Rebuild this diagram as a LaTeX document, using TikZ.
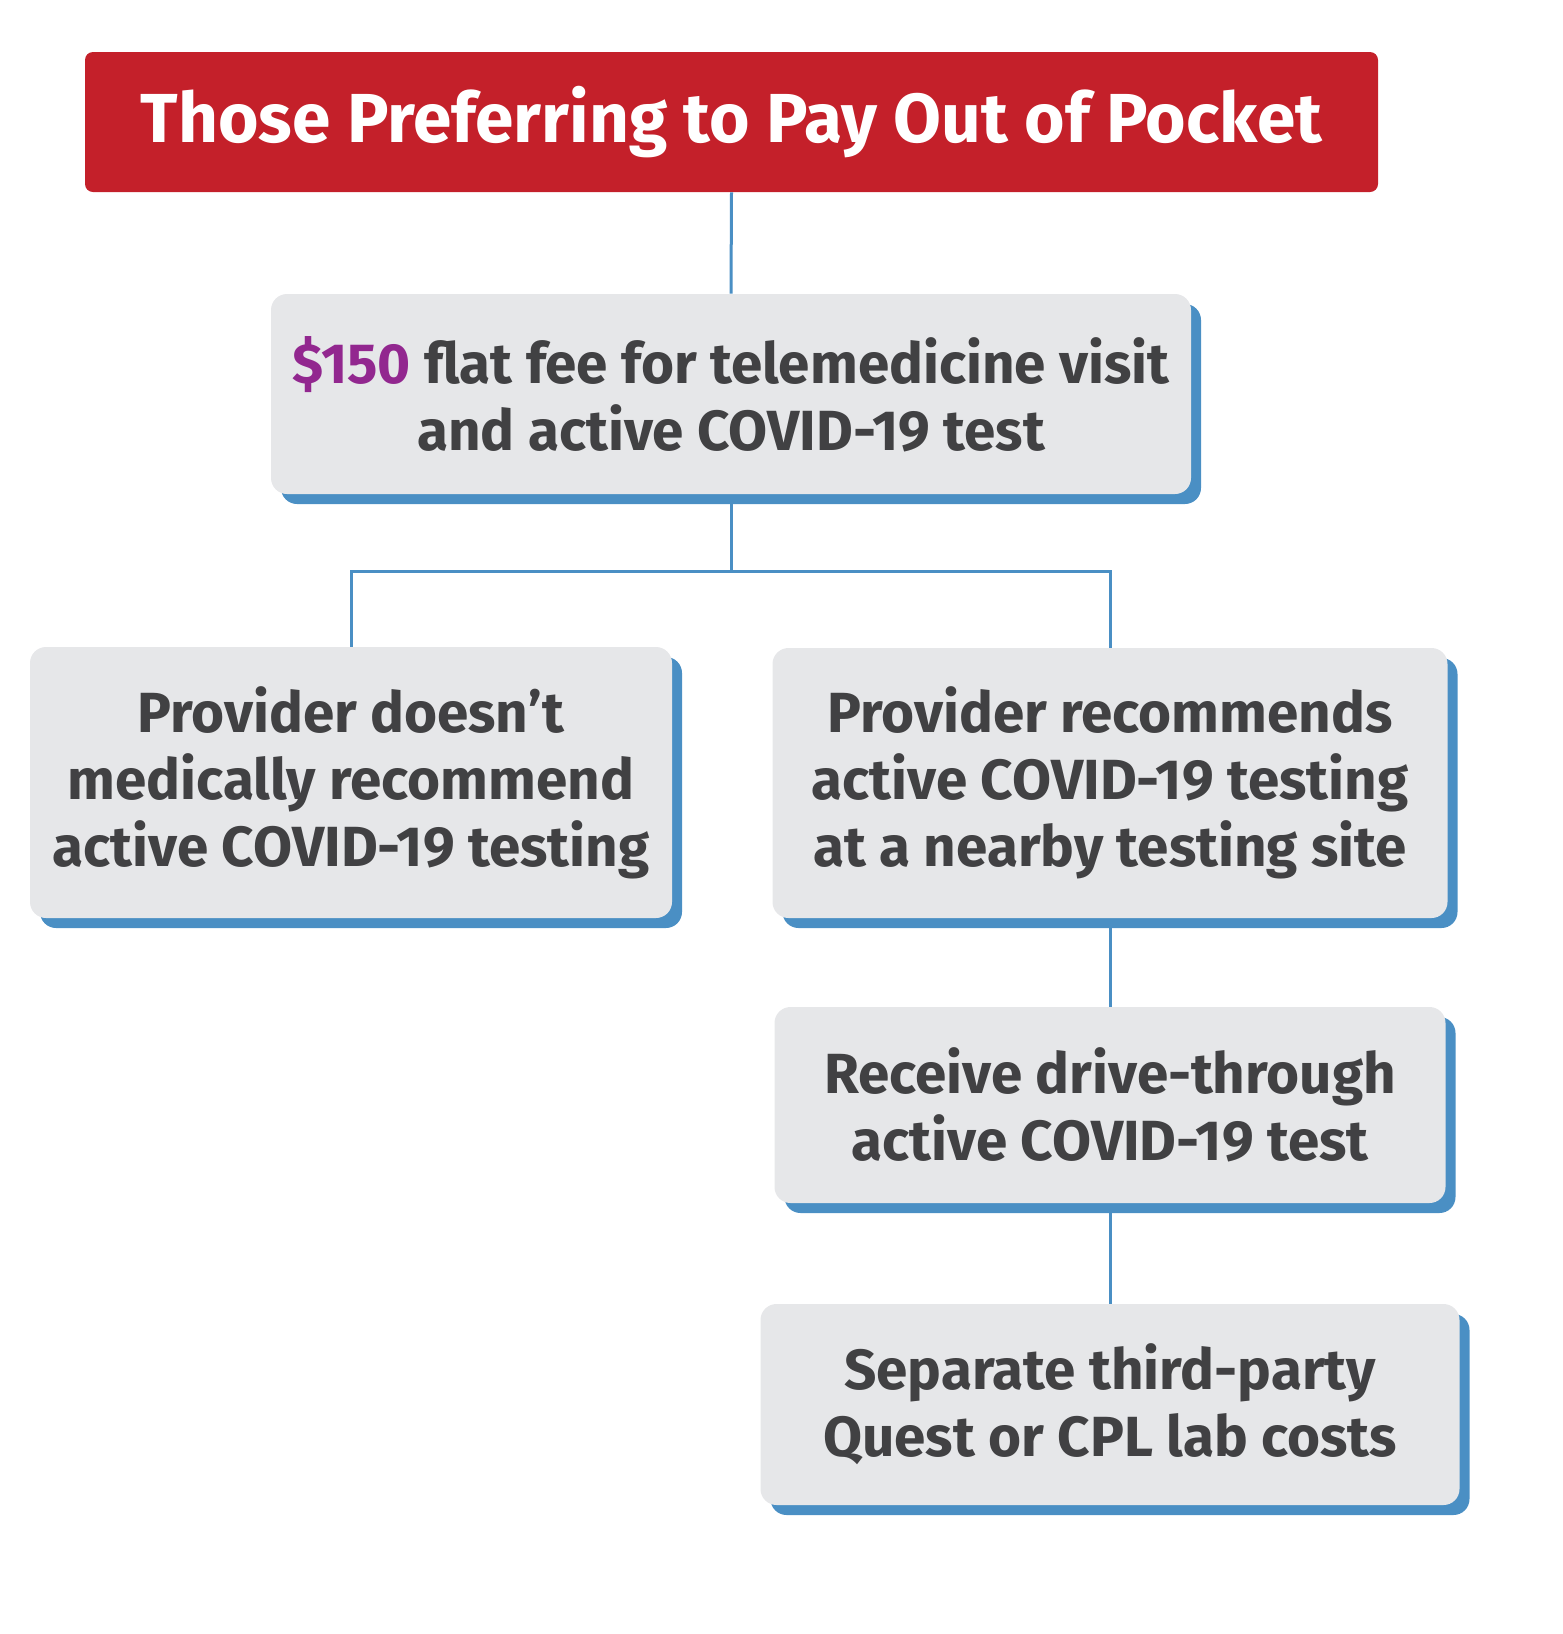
\documentclass[tikz,border=0pt]{standalone}
\usepackage{fontspec}
\setmainfont{Fira Sans}
\usetikzlibrary{shadows,positioning}
\definecolor{titlered}{HTML}{C4202A}
\definecolor{boxgray}{HTML}{E6E7E9}
\definecolor{textgray}{HTML}{414143}
\definecolor{pricepurple}{HTML}{92278F}
\definecolor{linkblue}{HTML}{4A8FC4}

\begin{document}
\begin{tikzpicture}[x=0.5pt,y=-0.5pt,
  titlebox/.style={fill=titlered, rounded corners=4pt, text=white, align=center,
    font=\fontsize{34.7}{40}\selectfont\bfseries},
  costbox/.style={fill=boxgray, rounded corners=8pt, text=textgray, align=center,
    font=\fontsize{28.3}{33.5}\selectfont\bfseries,
    drop shadow={shadow xshift=5pt, shadow yshift=-5pt, fill=linkblue, opacity=1}},
  link/.style={draw=linkblue, line width=1.5pt}]
  \useasboundingbox (0,0) rectangle (1563,1634);

  \node[titlebox, minimum width=646.5pt, minimum height=70pt] at (731.5,122) (title)
    {Those Preferring to Pay Out of Pocket};
  \node[costbox, minimum width=460pt, minimum height=100pt] at (731,394) (flatfee)
    {\textcolor{pricepurple}{\$150} flat fee for telemedicine visit\\and active COVID-19 test};
  \node[costbox, minimum width=321pt, minimum height=135.5pt] at (351,782.5) (norec)
    {Provider doesn’t\\medically recommend\\active COVID-19 testing};
  \node[costbox, minimum width=337.5pt, minimum height=135pt] at (1110,783) (rec)
    {Provider recommends\\active COVID-19 testing\\at a nearby testing site};
  \node[costbox, minimum width=335.5pt, minimum height=98pt] at (1110,1105) (drive)
    {Receive drive-through\\active COVID-19 test};
  \node[costbox, minimum width=349.5pt, minimum height=100.5pt] at (1110,1404.5) (lab)
    {Separate third-party\\Quest or CPL lab costs};

  \coordinate (split) at (731,571);

  \draw[link] (title.south) -- (flatfee.north);
  \draw[link] ([yshift=-5pt]flatfee.south) -- (split);
  \draw[link] (norec.north) |- (split) -| (rec.north);
  \draw[link] ([yshift=-5pt]rec.south) -- (drive.north);
  \draw[link] ([yshift=-5pt]drive.south) -- (lab.north);
\end{tikzpicture}
\end{document}
